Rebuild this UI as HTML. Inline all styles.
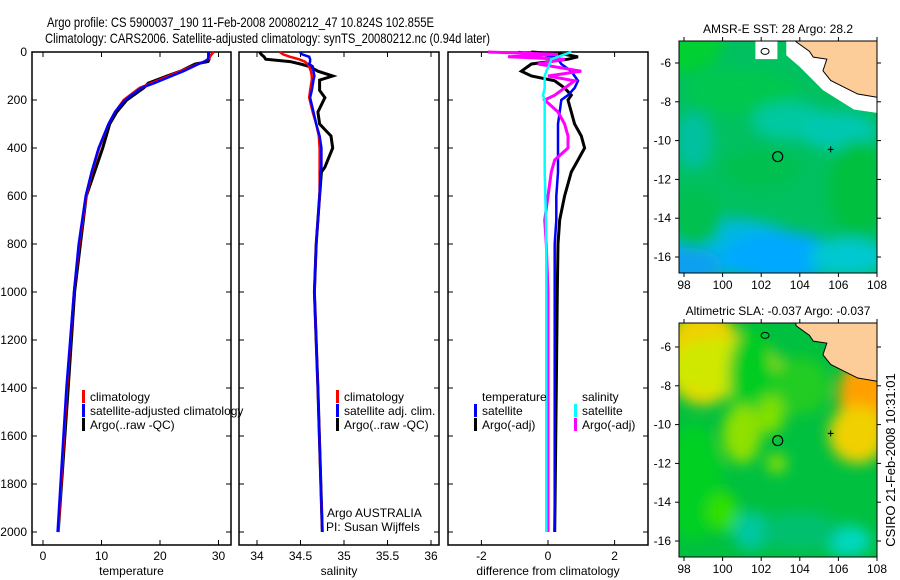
<!DOCTYPE html>
<html><head><meta charset="utf-8">
<style>
html,body{margin:0;padding:0;background:#fff;}
svg{display:block;font-family:"Liberation Sans",sans-serif;}
</style></head>
<body>
<svg id="c" width="900" height="580" viewBox="0 0 900 580" xmlns="http://www.w3.org/2000/svg">
<defs>
<filter id="bl" x="-20%" y="-20%" width="140%" height="140%"><feGaussianBlur stdDeviation="7"/></filter>
<clipPath id="m1"><rect x="679" y="41" width="198" height="232"/></clipPath>
<clipPath id="m2"><rect x="679" y="323" width="198" height="234"/></clipPath>
</defs>
<text x="47" y="27" font-size="14" textLength="387" lengthAdjust="spacingAndGlyphs">Argo profile: CS 5900037_190 11-Feb-2008 20080212_47 10.824S 102.855E</text>
<text x="45" y="43" font-size="14" textLength="445" lengthAdjust="spacingAndGlyphs">Climatology: CARS2006. Satellite-adjusted climatology: synTS_20080212.nc (0.94d later)</text>
<g id="plots"></g>
<g id="maps"></g>
<text transform="translate(895,460) rotate(-90)" font-size="13" text-anchor="middle">CSIRO 21-Feb-2008 10:31:01</text>
</svg>
<script>
// ---- data ----
const tDepth=[0,10,30,40,50,80,100,130,150,200,250,300,400,500,600,800,1000,1400,2000];
const tClim=[29.2,28.8,28.3,27.5,26.5,23.5,21.5,18.5,16.5,13.8,12.3,11.2,9.6,8.4,7.4,6.2,5.3,4.1,2.6];
const tSat=[28.3,28.3,28.2,27.6,26.6,24,22,19,16.8,14,12.3,11.2,9.5,8.3,7.3,6.1,5.3,4.0,2.5];
const tArgo=[28.3,28.3,28.4,28.2,26,23.5,21.2,18,17.2,14.3,12.6,11.4,10.2,8.8,7.4,6.4,5.4,4.3,2.6];
const sDepth=[0,10,20,30,40,50,60,80,100,117,160,190,250,300,350,400,480,500,600,800,1000,1400,2000];
const sClim=[34.26,34.3,34.38,34.48,34.55,34.58,34.6,34.62,34.63,34.63,34.61,34.6,34.64,34.68,34.71,34.72,34.72,34.72,34.72,34.68,34.66,34.7,34.75];
const sSat=[34.49,34.52,34.6,34.61,34.61,34.6,34.64,34.65,34.66,34.65,34.63,34.61,34.65,34.68,34.72,34.74,34.74,34.73,34.72,34.68,34.66,34.7,34.75];
const sArgo=[34.03,34.05,34.08,34.1,34.38,34.5,34.6,34.7,34.87,34.72,34.72,34.78,34.7,34.72,34.85,34.87,34.78,34.74,34.72,34.68,34.66,34.7,34.75];
const dDepth=[0,10,20,30,50,80,100,120,150,180,200,250,300,350,400,450,500,600,700,800,1000,1400,2000];
const dTsat=[-0.9,-0.3,0.2,0.3,0.4,0.7,0.8,0.9,0.8,0.6,0.4,0.35,0.3,0.3,0.3,0.3,0.3,0.25,0.25,0.2,0.2,0.2,0.2];
const dTargo=[-0.5,0.5,0.9,0.6,-0.5,-0.8,-0.5,0.2,0.5,0.7,0.6,0.7,0.8,1.0,1.1,0.9,0.7,0.5,0.35,0.3,0.28,0.25,0.2];
const dSsat=[0.7,0.5,0.3,0.1,0.05,-0.05,-0.1,-0.1,-0.1,-0.15,-0.1,-0.1,-0.1,-0.1,-0.1,-0.1,-0.1,-0.08,-0.06,-0.05,-0.05,-0.05,-0.05];
const dSargo=[-1.8,0.3,-1.2,0.5,-0.3,1.0,0.0,0.8,0.5,0.2,-0.1,0.3,0.5,0.6,0.6,0.2,0.1,0.0,-0.1,-0.05,0.0,0.0,0.0];
const depthTicks=[0,200,400,600,800,1000,1200,1400,1600,1800,2000];
const tTicks=[0,10,20,30];
const sTicks=[34,34.5,35,35.5,36];
const dTicks=[-2,0,2];
const lonTicks=[98,100,102,104,106,108];
const latTicks=[-6,-8,-10,-12,-14,-16];
const argoLon=102.855, argoLat=-10.824;

const NS='http://www.w3.org/2000/svg';
const plots=document.getElementById('plots');
const maps=document.getElementById('maps');
function mk(tag,attrs,parent,txt){const e=document.createElementNS(NS,tag);for(const k in attrs)e.setAttribute(k,attrs[k]);if(txt!==undefined)e.textContent=txt;parent.appendChild(e);return e;}
const yD=d=>52+d*0.24;
const PT=55, PB=545;

function panel(x0,x1,xs,ticks,fmt,label,name){
  const g=mk('g',{},plots);
  
  
  mk('rect',{x:x0,y:PT-3,width:x1-x0,height:PB-PT+3,fill:'none',stroke:'#000','stroke-width':1.5},g);
  ticks.forEach(t=>{const x=xs(t);
    mk('line',{x1:x,x2:x,y1:PB,y2:PB-5,stroke:'#000'},g);
    mk('line',{x1:x,x2:x,y1:PT-3,y2:PT+2,stroke:'#000'},g);
    const tx=mk('text',{x:x,y:PB+15,'font-size':12,'text-anchor':'middle'},g,fmt(t));
    
    
  });
  depthTicks.forEach(d=>{const y=yD(d);
    mk('line',{x1:x0,x2:x0+5,y1:y,y2:y,stroke:'#000'},g);
    mk('line',{x1:x1,x2:x1-5,y1:y,y2:y,stroke:'#000'},g);
  });
  const lb=mk('text',{x:(x0+x1)/2,y:PB+30,'font-size':12,'text-anchor':'middle'},g,label);
  
  
  return g;
}
function line(g,xs,vals,depths,col,w,name){
  const p=vals.map((v,i)=>xs(v).toFixed(1)+','+yD(depths[i]).toFixed(1)).join(' ');
  const e=mk('polyline',{points:p,fill:'none',stroke:col,'stroke-width':w},g);
  
  
}
function legend(g,x,y,items){
  items.forEach((it,i)=>{
    if(it[1]){const b=mk('rect',{x:x,y:y+i*14-11,width:3,height:13,fill:it[1]},g);
      
      }
    const t=mk('text',{x:x+8,y:y+i*14,'font-size':12},g,it[0]);
    
    
  });
}
depthTicks.forEach(d=>{
  const t=mk('text',{x:27,y:yD(d)+4,'font-size':12,'text-anchor':'end'},plots,String(d));
  
  
});
const xT=v=>43+v*5.85;
const g1=panel(32,231,xT,tTicks,String,'temperature','temperature-panel');
line(g1,xT,tArgo,tDepth,'#000',3,'temp-argo-line');
line(g1,xT,tClim,tDepth,'#f00',2.5,'temp-climatology-line');
line(g1,xT,tSat,tDepth,'#00f',2.5,'temp-satellite-line');
legend(g1,82,401,[['climatology','#f00'],['satellite-adjusted climatology','#00f'],['Argo(..raw -QC)','#000']]);
const xS=v=>257+(v-34)*87;
const g2=panel(239,439,xS,sTicks,String,'salinity','salinity-panel');
line(g2,xS,sArgo,sDepth,'#000',3,'sal-argo-line');
line(g2,xS,sClim,sDepth,'#f00',2.5,'sal-climatology-line');
line(g2,xS,sSat,sDepth,'#00f',2.5,'sal-satellite-line');
legend(g2,336,401,[['climatology','#f00'],['satellite adj. clim.','#00f'],['Argo(..raw -QC)','#000']]);
const a1=mk('text',{x:327,y:517,'font-size':12},g2,'Argo AUSTRALIA');

const a2=mk('text',{x:326,y:531,'font-size':12},g2,'PI: Susan Wijffels');

const xDf=v=>548+v*33.3;
const g3=panel(448,648,xDf,dTicks,v=>v===0?'0':String(v),'difference from climatology','difference-panel');
line(g3,xDf,dTargo,dDepth,'#000',3,'diff-temp-argo-line');
line(g3,xDf,dTsat,dDepth,'#00f',2.5,'diff-temp-satellite-line');
line(g3,xDf,dSargo,dDepth,'#f0f',3,'diff-sal-argo-line');
line(g3,xDf,dSsat,dDepth,'#0ff',2.5,'diff-sal-satellite-line');
legend(g3,474,401,[['temperature',null],['satellite','#00f'],['Argo(-adj)','#000']]);
legend(g3,574,401,[['salinity',null],['satellite','#0ff'],['Argo(-adj)','#f0f']]);

// ---- maps ----
function map(top,bot,y6,clip,title,blobs,base,name){
  const g=mk('g',{},maps);
  
  
  const lonX=l=>684+(l-98)*19.3;
  const yy=l=>y6-(l+6)*19.4;
  const cg=mk('g',{'clip-path':'url(#'+clip+')'},g);
  mk('rect',{x:679,y:top-25,width:198,height:bot-top+60,fill:base},cg);
  const fg=mk('g',{filter:'url(#bl)'},cg);
  blobs.forEach(b=>mk('ellipse',{cx:lonX(b[0]),cy:yy(b[1]),rx:b[2]*19.3,ry:b[3]*19.4,fill:b[4]},fg));
  if(name==='sst-map') mk('polygon',{points:[[lonX(104),top-25],[lonX(108.2),top-25],[lonX(108.2),yy(-8.6)],[lonX(106.8),yy(-8.4)],[lonX(105.2),yy(-7.4)],[lonX(104),yy(-6.2)],[lonX(103.3),yy(-5.6)],[lonX(103.3),top-25]].map(p=>p.join(',')).join(' '),fill:'#fff'},cg);
  if(name==='sst-map') mk('rect',{x:lonX(101.7),y:top,width:22,height:yy(-5.8)-top,fill:'#fff'},cg);
  const land=mk('polygon',{points:[[lonX(103.8),top-25],[lonX(108.2),top-25],[lonX(108.2),yy(-7.8)],[lonX(107),yy(-7.6)],[lonX(106.2),yy(-7.2)],[lonX(105.6),yy(-6.9)],[lonX(105.2),yy(-6.4)],[lonX(105.4),yy(-5.8)],[lonX(104.7),yy(-5.7)],[lonX(104.5),yy(-5.4)],[lonX(103.8),yy(-4.9)]].map(p=>p.join(',')).join(' '),fill:'#fccc99',stroke:'#000','stroke-width':1},cg);
  
  
  mk('ellipse',{cx:lonX(102.2),cy:yy(-5.4),rx:4,ry:3,fill:'none',stroke:'#000'},cg);
  mk('path',{d:`M${lonX(105.6)-3},${yy(-10.45)} h6 M${lonX(105.6)},${yy(-10.45)-3} v6`,stroke:'#000','stroke-width':1},cg);
  mk('rect',{x:679,y:top,width:198,height:bot-top,fill:'none',stroke:'#000','stroke-width':1},g);
  const mk1=mk('circle',{cx:lonX(argoLon),cy:yy(argoLat),r:5,fill:'none',stroke:'#000','stroke-width':1.2},g);
  
  
  lonTicks.forEach(l=>{const x=lonX(l);
    mk('line',{x1:x,x2:x,y1:bot,y2:bot+4,stroke:'#000'},g);
    mk('line',{x1:x,x2:x,y1:top,y2:top-4,stroke:'#000'},g);
    const t=mk('text',{x:x,y:bot+16,'font-size':12,'text-anchor':'middle'},g,String(l));
    });
  latTicks.forEach(l=>{const y=yy(l);
    mk('line',{x1:675,x2:679,y1:y,y2:y,stroke:'#000'},g);
    mk('line',{x1:877,x2:881,y1:y,y2:y,stroke:'#000'},g);
    const t=mk('text',{x:671,y:y+4,'font-size':12,'text-anchor':'end'},g,String(l));
    });
  const tt=mk('text',{x:778,y:top-8,'font-size':12,'text-anchor':'middle'},g,title);
  
}
const sstBlobs=[[98,-5,2,1.5,'#00d030'],[101,-7.5,3,1.2,'#00c850'],[103.5,-9,2,1,'#00c8a0'],[106,-9.5,2,1,'#00c8b0'],[98.5,-10,1,1.5,'#00c0a0'],[100,-15.5,4,1.5,'#00b8e0'],[103,-16,3,1.3,'#00a8ff'],[98,-16.5,2,1,'#10a0f0'],[106.5,-16,2,1,'#00c8d0'],[98.5,-14,1.5,1.5,'#00c050'],[107,-12.5,1.5,2.5,'#00c040'],[102,-11.5,2,1,'#00c050']];
map(41,273,63,'m1','AMSR-E SST: 28 Argo: 28.2',sstBlobs,'#00c060','sst-map');
const slaBlobs=[[99,-6.5,2,2.5,'#f0d000'],[100,-7,3,1.5,'#d0e800'],[101.5,-7.5,1.2,2.5,'#00cc20'],[104,-8,1.5,1.5,'#20cc20'],[101,-10.5,1,1.5,'#90e000'],[102.5,-9.5,0.7,1,'#80e000'],[107.5,-8.5,1.5,2,'#ffa000'],[107,-10.5,1.5,1.5,'#f0d000'],[98.5,-13,1.5,3,'#00d020'],[101.5,-15.5,1,1,'#00c8a0'],[106.5,-16,1.2,0.8,'#00d8c0'],[104,-15.5,2,1,'#00c070'],[100,-14.5,0.8,1,'#30e000'],[102.8,-12,0.5,0.5,'#90e000']];
map(323,557,347,'m2','Altimetric SLA: -0.037 Argo: -0.037',slaBlobs,'#00c040','sla-map');
</script>
</body></html>
